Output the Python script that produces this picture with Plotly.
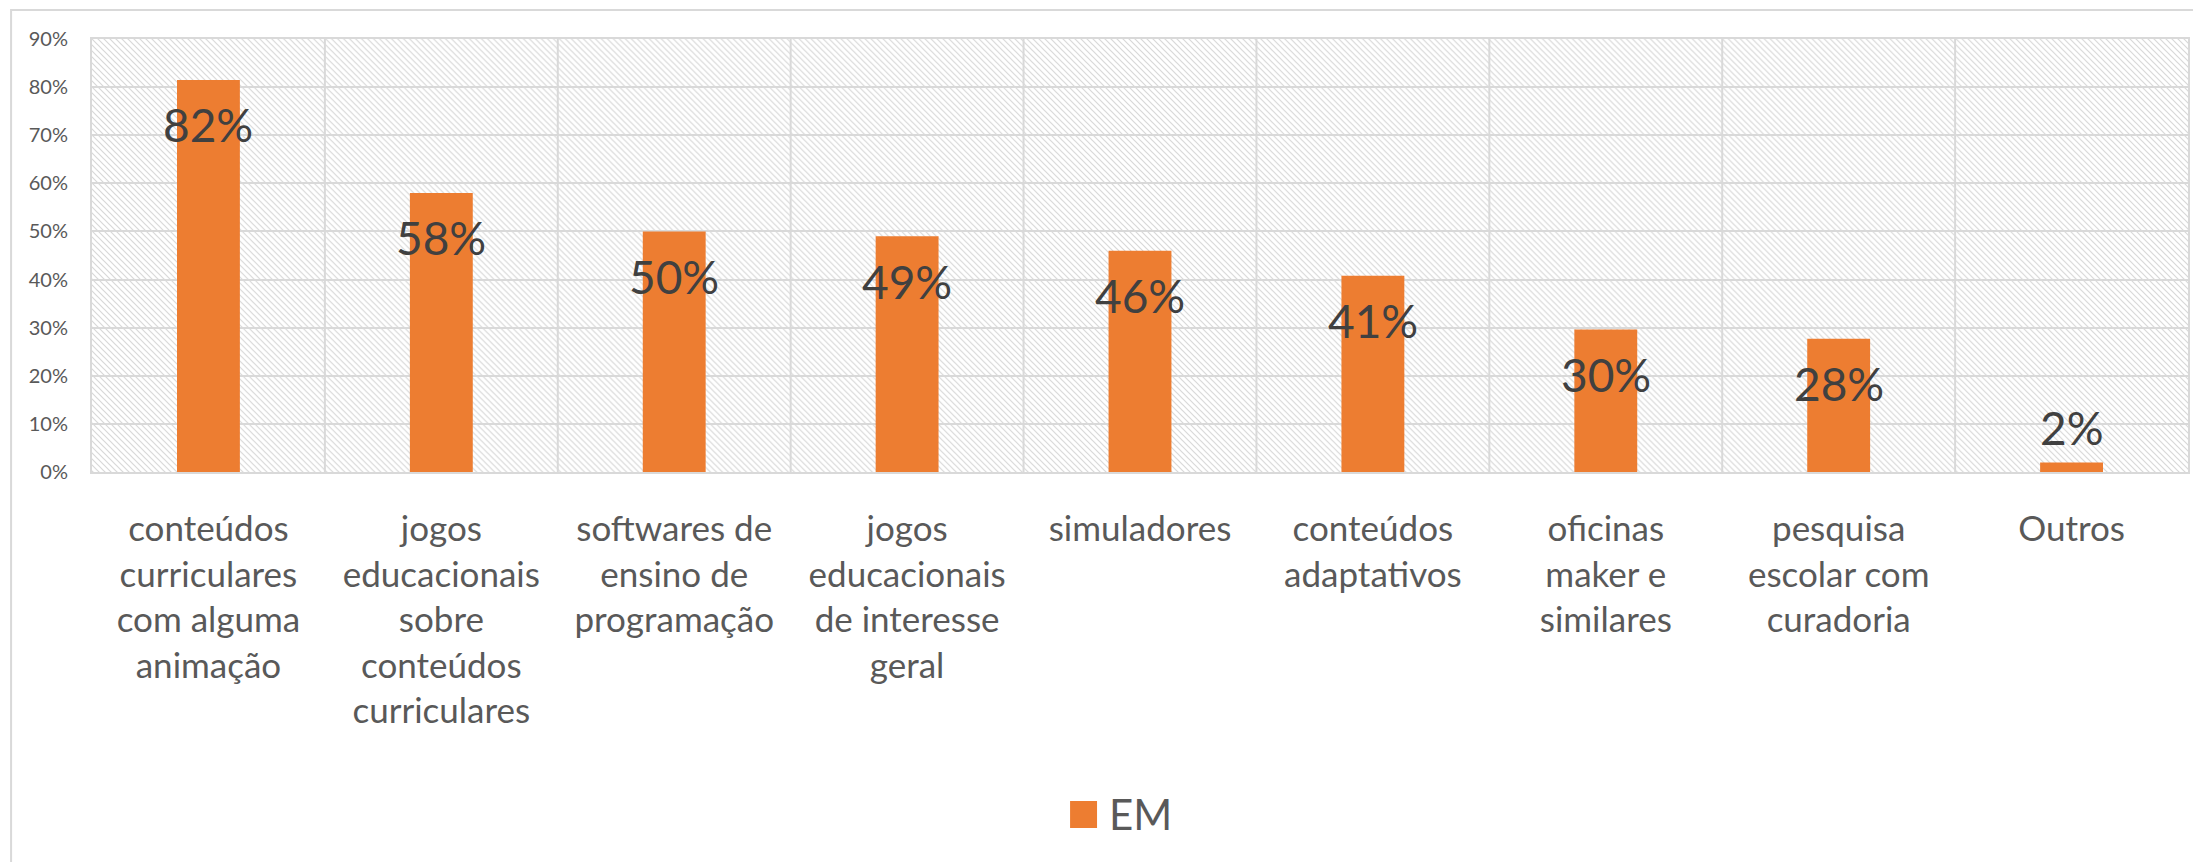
import base64
import plotly.graph_objects as go

# ---- data ----
categories = [
    "conteúdos curriculares com alguma animação",
    "jogos educacionais sobre conteúdos curriculares",
    "softwares de ensino de programação",
    "jogos educacionais de interesse geral",
    "simuladores",
    "conteúdos adaptativos",
    "oficinas maker e similares",
    "pesquisa escolar com curadoria",
    "Outros",
]
tick_labels = [
    "conteúdos<br>curriculares<br>com alguma<br>animação",
    "jogos<br>educacionais<br>sobre<br>conteúdos<br>curriculares",
    "softwares de<br>ensino de<br>programação",
    "jogos<br>educacionais<br>de interesse<br>geral",
    "simuladores",
    "conteúdos<br>adaptativos",
    "oficinas<br>maker e<br>similares",
    "pesquisa<br>escolar com<br>curadoria",
    "Outros",
]
values_em = [0.815, 0.58, 0.50, 0.49, 0.46, 0.408, 0.296, 0.277, 0.02]
series_name = "EM"
y_ticks = [0, 0.1, 0.2, 0.3, 0.4, 0.5, 0.6, 0.7, 0.8, 0.9]

# ---- layout constants (page pixels; the html body adds an 8px offset) ----
OFF = 8
PAGE_W, PAGE_H = 2201, 862
W, H = PAGE_W - OFF, PAGE_H - OFF
PLOT_L, PLOT_R, PLOT_T, PLOT_B = 92, 2190, 39, 472   # page coords
ML, MT = PLOT_L - OFF, PLOT_T - OFF
MR, MB = W - (PLOT_R - OFF), H - (PLOT_B - OFF)
PW, PH = W - ML - MR, H - MT - MB

def px_x(x):
    return (x - PLOT_L) / PW

def px_y(y):
    return (PLOT_B - y) / PH

FONT = "Lato, Noto Sans, sans-serif"
ORANGE = "#ED7D31"
GRID = "#D9D9D9"

# hatched plot-area background
svg = (
    f"<svg xmlns='http://www.w3.org/2000/svg' width='{PW}' height='{PH}'>"
    "<defs><pattern id='h' width='6' height='6' patternUnits='userSpaceOnUse'>"
    "<path d='M-1,-1 L7,7 M5,-1 L7,1 M-1,5 L1,7' stroke='#D8D8D8' stroke-width='1.2'/>"
    "</pattern></defs>"
    f"<rect width='{PW}' height='{PH}' fill='white'/>"
    f"<rect width='{PW}' height='{PH}' fill='url(#h)'/></svg>"
)
svg_uri = "data:image/svg+xml;base64," + base64.b64encode(svg.encode()).decode()

fig = go.Figure()
fig.add_trace(go.Bar(
    x=categories,
    y=values_em,
    name=series_name,
    marker=dict(color=ORANGE, line=dict(width=0)),
    showlegend=False,
    hoverinfo="x+y",
))

# data labels: inside-end for tall bars, just above for very short ones
annotations = []
for cat, v in zip(categories, values_em):
    inside = v > 0.1
    annotations.append(dict(
        x=cat, y=v, xref="x", yref="y",
        text=f"{round(v * 100):d}%",
        showarrow=False, xanchor="center", yanchor="middle",
        yshift=-45 if inside else 35,
        font=dict(family=FONT, size=46, color="#404040"),
    ))

annotations.append(dict(
    text=series_name, xref="paper", yref="paper",
    x=px_x(1108), y=px_y(814), xanchor="left", yanchor="middle",
    showarrow=False, font=dict(family=FONT, size=42, color="#595959"),
))

fig.update_layout(
    width=W,
    height=H,
    margin=dict(l=ML, r=MR, t=MT, b=MB, pad=0),
    paper_bgcolor="white",
    plot_bgcolor="white",
    bargap=0.73,
    showlegend=False,
    font=dict(family=FONT, color="#595959"),
    images=[dict(
        source=svg_uri, xref="paper", yref="paper", x=0, y=1,
        sizex=1, sizey=1, xanchor="left", yanchor="top",
        sizing="stretch", layer="below",
    )],
    shapes=[
        # chart-area border
        dict(type="rect", xref="paper", yref="paper",
             x0=px_x(11), x1=px_x(2215), y0=px_y(900), y1=px_y(10),
             line=dict(color=GRID, width=2), fillcolor="rgba(0,0,0,0)", layer="below"),
        # legend swatch
        dict(type="rect", xref="paper", yref="paper",
             x0=px_x(1071), x1=px_x(1098), y0=px_y(828), y1=px_y(801),
             line=dict(width=0), fillcolor=ORANGE),
    ],
    annotations=annotations,
)

fig.update_xaxes(
    tickmode="array",
    tickvals=categories,
    ticktext=tick_labels,
    tickangle=0,
    tickfont=dict(family=FONT, size=35, color="#595959"),
    ticks="",
    ticklabelstandoff=25,
    showgrid=False,
    showline=True, mirror=True, linecolor=GRID, linewidth=2,
)
# vertical separators between categories
for i in range(1, len(categories)):
    fig.add_shape(type="line", xref="paper", yref="paper",
                  x0=i / len(categories), x1=i / len(categories), y0=0, y1=1,
                  line=dict(color=GRID, width=2), layer="below")

fig.update_yaxes(
    range=[0, 0.9],
    tickmode="array",
    tickvals=y_ticks,
    tickformat=".0%",
    tickfont=dict(family=FONT, size=20, color="#595959"),
    ticks="",
    ticklabelstandoff=18,
    showgrid=True, gridcolor=GRID, gridwidth=2,
    zeroline=False,
    showline=True, mirror=True, linecolor=GRID, linewidth=2,
)

fig.write_html("out.html")
